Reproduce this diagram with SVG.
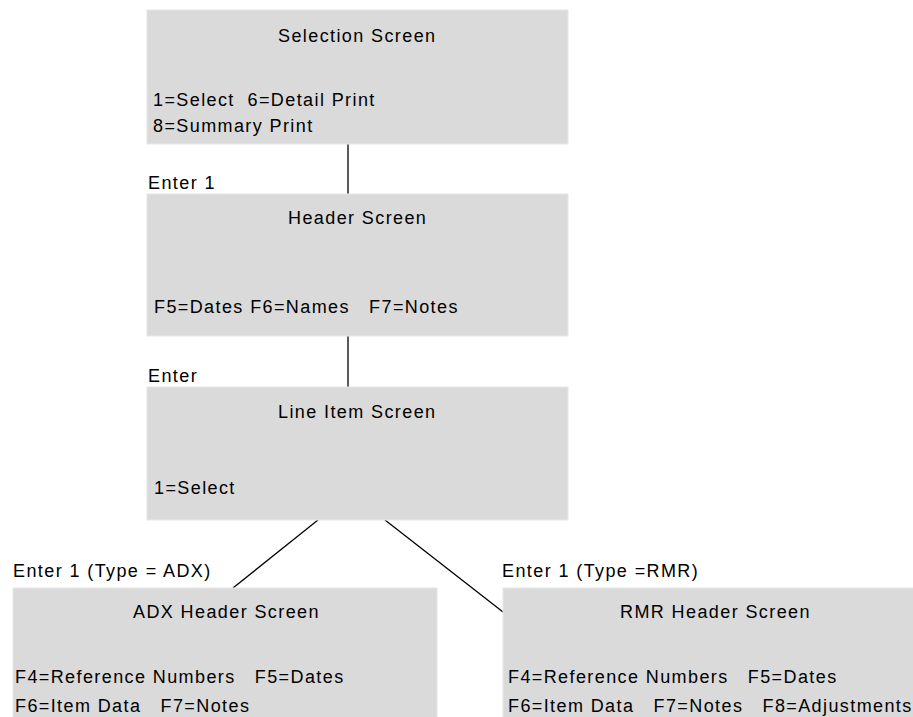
<svg xmlns="http://www.w3.org/2000/svg" width="913" height="717" viewBox="0 0 913 717">
<style>
.box{fill:#dadada;stroke:#e6e6e6;stroke-width:1}
text{font-family:"Liberation Sans",Arial,sans-serif;font-size:18px;letter-spacing:1.4px;fill:#000;white-space:pre}
.conn line{stroke:#000;stroke-width:1.3}
</style>
<rect width="913" height="717" fill="#fff"/>
<g class="conn">
<line x1="348" y1="144" x2="348" y2="194"/>
<line x1="348" y1="336" x2="348" y2="387"/>
<line x1="318" y1="520" x2="233" y2="588"/>
<line x1="385" y1="520" x2="503" y2="612"/>
</g>
<g id="selection">
<rect class="box" x="147" y="10" width="421" height="134"/>
<text x="278" y="42">Selection Screen</text>
<text x="153" y="106">1=Select  6=Detail Print</text>
<text x="153" y="132">8=Summary Print</text>
</g>
<text x="148" y="189">Enter 1</text>
<g id="header">
<rect class="box" x="147" y="194" width="421" height="142"/>
<text x="288" y="224">Header Screen</text>
<text x="154" y="313">F5=Dates F6=Names   F7=Notes</text>
</g>
<text x="148" y="382">Enter</text>
<g id="lineitem">
<rect class="box" x="147" y="387" width="421" height="133"/>
<text x="278" y="418">Line Item Screen</text>
<text x="154" y="494">1=Select</text>
</g>
<text x="13" y="577">Enter 1 (Type = ADX)</text>
<g id="adx">
<rect class="box" x="13" y="588" width="424" height="135"/>
<text x="133" y="618">ADX Header Screen</text>
<text x="15" y="683">F4=Reference Numbers   F5=Dates</text>
<text x="15" y="712">F6=Item Data   F7=Notes</text>
</g>
<text x="502" y="577">Enter 1 (Type =RMR)</text>
<g id="rmr">
<rect class="box" x="503" y="588" width="420" height="135"/>
<text x="620" y="618">RMR Header Screen</text>
<text x="508" y="683">F4=Reference Numbers   F5=Dates</text>
<text x="508" y="712">F6=Item Data   F7=Notes   F8=Adjustments</text>
</g>
</svg>
